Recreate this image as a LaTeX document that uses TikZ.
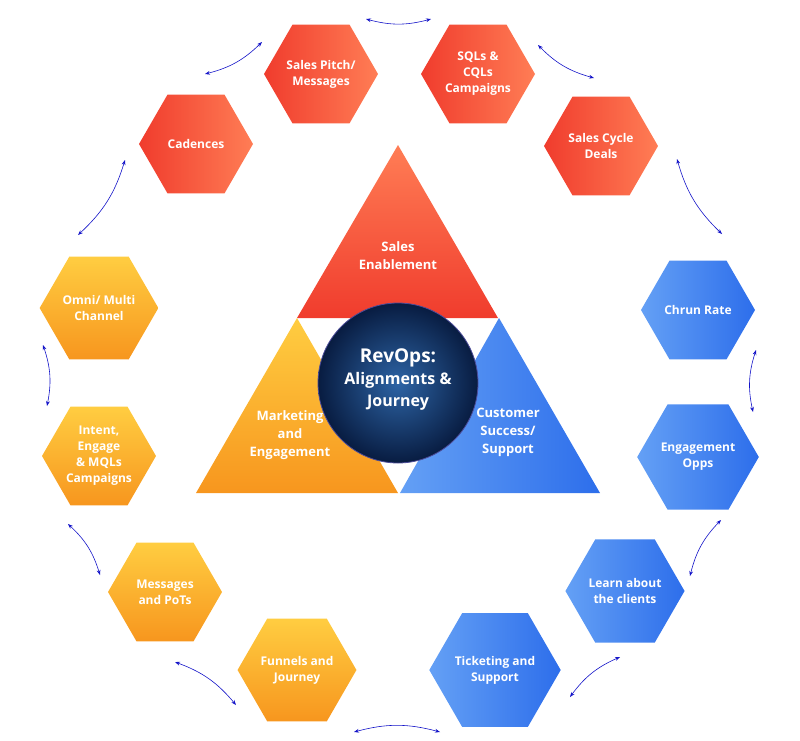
\documentclass[tikz,border=0pt]{standalone}
\usepackage{fontspec}
\setmainfont{Open Sans}
\usetikzlibrary{shapes.geometric,arrows.meta}
\definecolor{rA}{RGB}{240,60,45}\definecolor{rB}{RGB}{255,125,85}
\definecolor{oA}{RGB}{255,205,65}\definecolor{oB}{RGB}{247,150,30}
\definecolor{bA}{RGB}{100,160,245}\definecolor{bB}{RGB}{45,110,235}
\definecolor{arr}{RGB}{20,20,200}
\begin{document}
\begin{tikzpicture}[x=1pt,y=-1pt,
 hex/.style={regular polygon,regular polygon sides=6,minimum size=114pt,inner sep=0pt,
   text=white,font=\fontsize{12}{16}\selectfont\bfseries,align=center},
 red/.style={hex,left color=rA,right color=rB},
 ora/.style={hex,top color=oA,bottom color=oB},
 blu/.style={hex,left color=bA,right color=bB},
 lnk/.style={arr,{Stealth[length=5pt]}-{Stealth[length=5pt]},line width=0.6pt},
 tlab/.style={text=white,font=\fontsize{13}{18}\selectfont\bfseries,align=center}]
\useasboundingbox (0,0) rectangle (800,740);
% triangles
\shade[top color=rB,bottom color=rA] (398,145) -- (498,318) -- (297,318) -- cycle;
\shade[top color=oA,bottom color=oB] (297,318) -- (398,493) -- (196,493) -- cycle;
\shade[left color=bA,right color=bB] (499,318) -- (600,493) -- (400,493) -- cycle;
\node[tlab] (ts) at (398,256) {Sales\\Enablement};
\node[tlab] (tm) at (290,435) {Marketing\\and\\Engagement};
\node[tlab] (tc) at (508,432) {Customer\\Success/\\Support};
\shade[inner color={rgb,255:red,45;green,100;blue,165},outer color={rgb,255:red,8;green,28;blue,65}] (398,383) circle (80);
\draw[white!50!blue!60!black,line width=0.8pt] (398,383) circle (80);
\node[text=white,font=\fontsize{19}{24}\selectfont\bfseries,align=center] (c) at (398,380) {RevOps:\\[-2pt]{\fontsize{16}{20}\selectfont Alignments \&}\\[-2pt]{\fontsize{16}{20}\selectfont Journey}};
% hexagons
\node[red] (h1) at (321,74) {Sales Pitch/\\Messages};
\node[red] (h2) at (478,74) {SQLs \&\\CQLs\\Campaigns};
\node[red] (h3) at (601,146) {Sales Cycle\\Deals};
\node[blu] (h4) at (698,310) {Chrun Rate};
\node[blu] (h5) at (698,457) {Engagement\\Opps};
\node[blu] (h6) at (625,591) {Learn about\\the clients};
\node[blu] (h7) at (495,670) {Ticketing and\\Support};
\node[ora] (h8) at (297,670) {Funnels and\\Journey};
\node[ora] (h9) at (165,592) {Messages\\and PoTs};
\node[ora] (h10) at (99,456) {Intent,\\Engage\\\& MQLs\\Campaigns};
\node[ora] (h11) at (99,308) {Omni/ Multi\\Channel};
\node[red] (h12) at (196,144) {Cadences};
% arrows
\coordinate (a1) at (366,19); \coordinate (b1) at (431,19);
\coordinate (a2) at (538,45); \coordinate (b2) at (594,78);
\coordinate (a3) at (677,159); \coordinate (b3) at (722,234);
\coordinate (a4) at (756,350); \coordinate (b4) at (753,412);
\coordinate (a5) at (721,520); \coordinate (b5) at (690,576);
\coordinate (a6) at (620,657); \coordinate (b6) at (570,697);
\coordinate (a7) at (440,732); \coordinate (b7) at (354,732);
\coordinate (a8) at (236,705); \coordinate (b8) at (175,662);
\coordinate (a9) at (100,575); \coordinate (b9) at (68,524);
\coordinate (a10) at (47,406); \coordinate (b10) at (43,345);
\coordinate (a11) at (78,235); \coordinate (b11) at (125,160);
\coordinate (a12) at (205,74); \coordinate (b12) at (262,42);
\foreach \i in {1,...,12} \draw[lnk] (a\i) to[bend right=15] (b\i);
\end{tikzpicture}
\end{document}
